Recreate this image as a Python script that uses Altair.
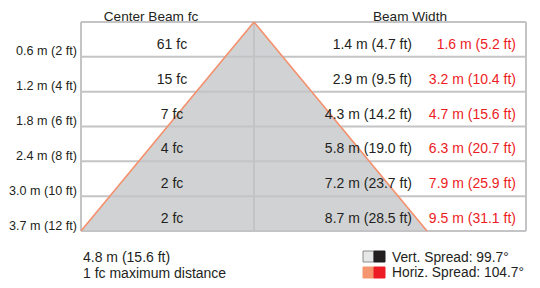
import altair as alt
import pandas as pd

# ---- data ----
dist_m = [0.6, 1.2, 1.8, 2.4, 3.0, 3.7]
dist_ft = [2, 4, 6, 8, 10, 12]
center_fc = [61, 15, 7, 4, 2, 2]
vert_m = [1.4, 2.9, 4.3, 5.8, 7.2, 8.7]
vert_ft = [4.7, 9.5, 14.2, 19.0, 23.7, 28.5]
horiz_m = [1.6, 3.2, 4.7, 6.3, 7.9, 9.5]
horiz_ft = [5.2, 10.4, 15.6, 20.7, 25.9, 31.1]
max_dist_m, max_dist_ft = 4.8, 15.6
vert_spread, horiz_spread = 99.7, 104.7

# ---- layout (image pixel units) ----
W, H = 524, 272
TOP, BOTTOM = 22, 231
LEFT, CENTER, RIGHT = 81, 254, 526
BASE_HALF = 173
n = len(dist_m)
ROW_H = (BOTTOM - TOP) / n
FONT = "Liberation Sans"
DARK = "#231f20"
RED = "#ed1c24"
GRID = "#c4c4c6"
FILL = "#d1d2d4"
EDGE = "#f4906c"

xs = alt.Scale(domain=[8, 8 + W], range=[0, W])
ys = alt.Scale(domain=[8, 8 + H], range=[0, H])


def X(f="x"):
    return alt.X(f"{f}:Q", scale=xs, axis=None)


def Y(f="y"):
    return alt.Y(f"{f}:Q", scale=ys, axis=None)


# triangle fill
tri = pd.DataFrame({"y": [TOP, BOTTOM], "x": [CENTER, CENTER - BASE_HALF],
                    "x2": [CENTER, CENTER + BASE_HALF]})
tri_layer = alt.Chart(tri).mark_area(orient="horizontal", color=FILL).encode(
    y=Y(), x=X(), x2="x2:Q")

# grid
hlines = pd.DataFrame({"y": [TOP + i * ROW_H for i in range(n + 1)],
                       "x": [LEFT] * (n + 1), "x2": [RIGHT] * (n + 1)})
h_layer = alt.Chart(hlines).mark_rule(color=GRID, strokeWidth=2).encode(
    y=Y(), x=X(), x2="x2:Q")
vlines = pd.DataFrame({"x": [LEFT, CENTER, RIGHT], "y": [TOP] * 3, "y2": [BOTTOM] * 3})
v_layer = alt.Chart(vlines).mark_rule(color=GRID, strokeWidth=2).encode(
    x=X(), y=Y(), y2="y2:Q")

# orange edges
edges = pd.DataFrame({
    "x": [CENTER, CENTER - BASE_HALF, CENTER, CENTER + BASE_HALF],
    "y": [TOP, BOTTOM, TOP, BOTTOM],
    "side": ["l", "l", "r", "r"]})
edge_layer = alt.Chart(edges).mark_line(color=EDGE, strokeWidth=1.6).encode(
    x=X(), y=Y(), detail="side:N")

rows = pd.DataFrame({
    "dist": [f"{m:.1f} m ({f} ft)" for m, f in zip(dist_m, dist_ft)],
    "fc": [f"{v} fc" for v in center_fc],
    "vert": [f"{m:.1f} m ({f:.1f} ft)" for m, f in zip(vert_m, vert_ft)],
    "horiz": [f"{m:.1f} m ({f:.1f} ft)" for m, f in zip(horiz_m, horiz_ft)],
    "ybound": [TOP + (i + 1) * ROW_H for i in range(n)],
    "ymid": [TOP + (i + 0.5) * ROW_H for i in range(n)],
    "xd": [77] * n, "xfc": [172] * n, "xv": [412] * n, "xh": [516] * n,
})

dist_layer = alt.Chart(rows).mark_text(align="right", baseline="alphabetic", dy=-1.5,
                                       font=FONT, fontSize=12.6, color=DARK).encode(
    x=X("xd"), y=Y("ybound"), text="dist:N")
fc_layer = alt.Chart(rows).mark_text(align="center", baseline="alphabetic", dy=9.5,
                                     font=FONT, fontSize=14, color=DARK).encode(
    x=X("xfc"), y=Y("ymid"), text="fc:N")
vert_layer = alt.Chart(rows).mark_text(align="right", baseline="alphabetic", dy=9.5,
                                       font=FONT, fontSize=14, color=DARK).encode(
    x=X("xv"), y=Y("ymid"), text="vert:N")
horiz_layer = alt.Chart(rows).mark_text(align="right", baseline="alphabetic", dy=9.5,
                                        font=FONT, fontSize=14, color=RED).encode(
    x=X("xh"), y=Y("ymid"), text="horiz:N")

titles = pd.DataFrame({"t": ["Center Beam fc", "Beam Width"], "x": [151, 410], "y": [20.5, 20.5]})
title_layer = alt.Chart(titles).mark_text(align="center", baseline="alphabetic",
                                          font=FONT, fontSize=13.6, color=DARK).encode(
    x=X(), y=Y(), text="t:N")

notes = pd.DataFrame({"t": [f"{max_dist_m} m ({max_dist_ft} ft)", "1 fc maximum distance"],
                      "x": [83, 83], "y": [262, 278]})
note_layer = alt.Chart(notes).mark_text(align="left", baseline="alphabetic",
                                        font=FONT, fontSize=14, color=DARK).encode(
    x=X(), y=Y(), text="t:N")

legend_text = pd.DataFrame({"t": [f"Vert. Spread: {vert_spread}°", f"Horiz. Spread: {horiz_spread}°"],
                            "x": [392, 392], "y": [262, 277]})
leg_text_layer = alt.Chart(legend_text).mark_text(align="left", baseline="alphabetic",
                                                  font=FONT, fontSize=13.8, color=DARK).encode(
    x=X(), y=Y(), text="t:N")

sw = pd.DataFrame({
    "x": [363, 374, 363, 374], "x2": [374, 385, 374, 385],
    "y": [251, 251, 267, 267], "y2": [262, 262, 278, 278],
    "c": ["#e6e7e8", DARK, "#f4956f", RED],
    "s": ["#8a8a8a", DARK, "#f4956f", RED]})
sw_layer = alt.Chart(sw).mark_rect(strokeWidth=1).encode(
    x=X(), x2="x2:Q", y=Y(), y2="y2:Q",
    fill=alt.Fill("c:N", scale=None), stroke=alt.Stroke("s:N", scale=None))

chart = alt.layer(tri_layer, h_layer, v_layer, edge_layer, dist_layer, fc_layer,
                  vert_layer, horiz_layer, title_layer, note_layer, leg_text_layer, sw_layer
                  ).properties(width=W, height=H, padding=0, autosize="none",
                               background="white"
                  ).configure_view(stroke=None)

chart.save("out.html", embed_options={"renderer": "svg", "actions": False})
